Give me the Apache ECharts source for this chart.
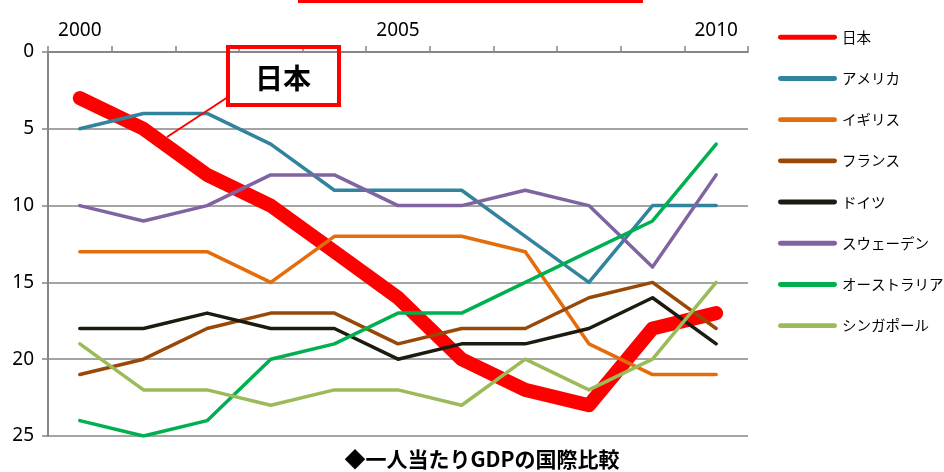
<!DOCTYPE html>
<html>
<head>
<meta charset="UTF-8">
<script src="https://cdn.jsdelivr.net/npm/echarts@6/dist/echarts.min.js"></script>
<style>
  html, body { margin: 0; background: #fff; }
  #c { width: 944px; height: 472px; }
</style>
</head>
<body>
<div id="c"></div>
<script>
// 年（横軸・上）
const years = ['2000', '2001', '2002', '2003', '2004', '2005', '2006', '2007', '2008', '2009', '2010'];

// 順位（縦軸は反転：0 が上）
const japan     = [3, 5, 8, 10, 13, 16, 20, 22, 23, 18, 17];
const america   = [5, 4, 4, 6, 9, 9, 9, 12, 15, 10, 10];
const uk        = [13, 13, 13, 15, 12, 12, 12, 13, 19, 21, 21];
const france    = [21, 20, 18, 17, 17, 19, 18, 18, 16, 15, 18];
const germany   = [18, 18, 17, 18, 18, 20, 19, 19, 18, 16, 19];
const sweden    = [10, 11, 10, 8, 8, 10, 10, 9, 10, 14, 8];
const australia = [24, 25, 24, 20, 19, 17, 17, 15, 13, 11, 6];
const singapore = [19, 22, 22, 23, 22, 22, 23, 20, 22, 20, 15];

const yTicks = [0, 5, 10, 15, 20, 25];

const seriesDefs = [
  { name: '日本',           data: japan,     color: '#FF0000', width: 14 },
  { name: 'アメリカ',       data: america,   color: '#31849B', width: 3.5 },
  { name: 'イギリス',       data: uk,        color: '#E46C0A', width: 3.5 },
  { name: 'フランス',       data: france,    color: '#984807', width: 3.5 },
  { name: 'ドイツ',         data: germany,   color: '#1D1B10', width: 3.5 },
  { name: 'スウェーデン',   data: sweden,    color: '#8064A2', width: 3.5 },
  { name: 'オーストラリア', data: australia, color: '#00B050', width: 3.5 },
  { name: 'シンガポール',   data: singapore, color: '#9BBB59', width: 3.5 }
];

const GRAY = '#868686';
const JP = '"Noto Sans CJK JP", sans-serif';

const chart = echarts.init(document.getElementById('c'), null, { renderer: 'canvas' });

chart.setOption({
  animation: false,
  backgroundColor: '#fff',
  grid: { left: 48, right: 196, top: 52, bottom: 36 },
  xAxis: {
    type: 'category',
    position: 'top',
    data: years,
    boundaryGap: true,
    axisLine: { lineStyle: { color: GRAY, width: 2 } },
    axisTick: { show: true, interval: 0, length: 6, lineStyle: { color: GRAY, width: 1.5 } },
    axisLabel: { interval: 4, color: '#000', fontSize: 19, fontFamily: '"Noto Sans", sans-serif', margin: 12 },
    splitLine: { show: false }
  },
  yAxis: {
    type: 'value',
    inverse: true,
    min: yTicks[0],
    max: yTicks[yTicks.length - 1],
    interval: 5,
    axisLine: { show: true, lineStyle: { color: GRAY, width: 2 } },
    axisTick: { show: true, length: 6, lineStyle: { color: GRAY, width: 1.5 } },
    axisLabel: { color: '#000', fontSize: 19, fontFamily: '"Noto Sans", sans-serif', margin: 14 },
    splitLine: { show: true, lineStyle: { color: GRAY, width: 1.5 } }
  },
  legend: {
    orient: 'vertical',
    left: 778,
    top: 30,
    padding: 0,
    itemWidth: 59,
    itemHeight: 14,
    itemGap: 26.7,
    // 凡例は細い線だけ（丸マーカーなし）
    icon: 'path://M2,0 L57,0 A2.5,2.5 0 0 1 57,5 L2,5 A2.5,2.5 0 0 1 2,0 Z',
    data: seriesDefs.map(s => s.name),
    textStyle: { fontSize: 14.5, color: '#000', fontFamily: JP }
  },
  series: seriesDefs.map(s => ({
    name: s.name,
    type: 'line',
    data: s.data,
    symbol: 'none',
    color: s.color,
    lineStyle: { color: s.color, width: s.width, cap: 'round', join: 'round' }
  })),
  graphic: [
    // 上端で切れたタイトルの赤い下線
    { type: 'rect', shape: { x: 298, y: 0, width: 345, height: 3 }, style: { fill: '#FF0000' }, z: 10 },
    // 日本の吹き出し
    { type: 'line', shape: { x1: 167, y1: 137, x2: 228, y2: 97 }, style: { stroke: '#FF0000', lineWidth: 2 }, z: 10 },
    { type: 'rect', shape: { x: 228, y: 47, width: 111, height: 58 }, style: { fill: 'transparent', stroke: '#FF0000', lineWidth: 4 }, z: 10 },
    { type: 'text', x: 283, y: 78, style: { text: '日本', fill: '#000', font: 'bold 28px "Noto Sans CJK JP"', align: 'center', verticalAlign: 'middle' }, z: 11 },
    // 下のキャプション
    { type: 'text', x: 482, y: 459, style: { text: '◆一人当たりGDPの国際比較', fill: '#000', font: 'bold 21px "Noto Sans CJK JP"', align: 'center', verticalAlign: 'middle' }, z: 11 }
  ]
});
</script>
</body>
</html>
